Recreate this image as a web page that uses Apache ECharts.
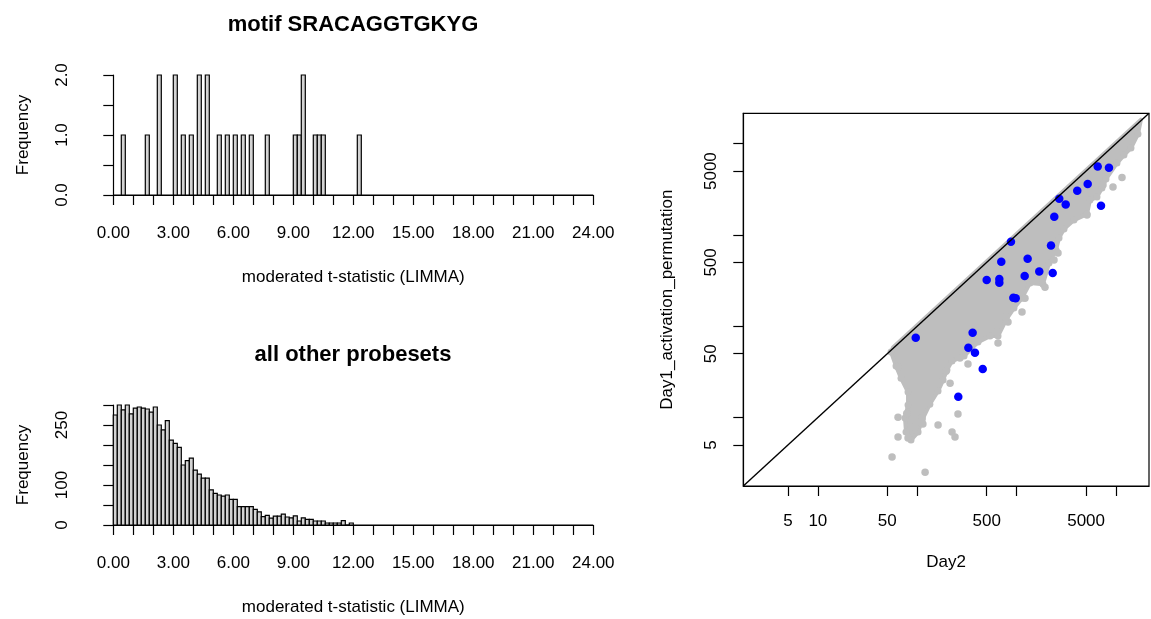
<!DOCTYPE html>
<html>
<head>
    <meta charset="utf-8">
    <title>motif SRACAGGTGKYG</title>
    <script src="https://cdn.jsdelivr.net/npm/echarts@6/dist/echarts.min.js"></script>
    <style>
        body { margin: 0; background: #fff; }
    </style>
</head>
<body>
    <div id="main" style="width: 1151px;height:619px;"></div>
<script type="text/javascript">
// histogram bins are 0.2 wide
var binWidth = 0.2;

// motif probesets: left edge of each non-empty bin and its count
var motifBinStarts = [0.4, 1.6, 2.2, 3.0, 3.4, 3.8, 4.2, 4.6, 5.2, 5.6, 6.0, 6.4, 6.8, 7.6, 9.0, 9.2, 9.4, 10.0, 10.2, 10.4, 12.2];
var motifCounts    = [1,   1,   2,   2,   1,   1,   2,   2,   1,   1,   1,   1,   1,   1,   1,   1,   2,   1,    1,    1,    1];

// all other probesets: counts of bins starting at 0, 0.2, 0.4 ...
var otherCounts = [
    275, 300, 288, 300, 278, 292, 295, 292, 290, 282,
    295, 250, 238, 261, 212, 204, 194, 150, 161, 167,
    137, 127, 117, 117, 88, 79, 75, 72, 75, 64,
    64, 46, 46, 46, 46, 39, 33, 21, 24, 17,
    22, 22, 27, 20, 18, 23, 10, 18, 14, 14,
    10, 10, 10, 5, 5, 5, 5, 11, 0, 5
];

// scatter: dense grey cloud outline [Day2, Day1]
var cloudOutline = [
    [17820, 18320], [57.0, 58.6], [54.5, 52.1], [61.2, 36.6], [68.7, 27.0],
    [80.8, 19.0], [80.8, 13.7], [75.3, 9.85], [77.1, 6.92], [86.6, 5.66],
    [102, 6.92], [112, 9.37], [134, 14.0], [162, 19.5], [182, 25.7],
    [199, 33.1], [224, 41.5], [296, 47.1], [409, 67.0], [540, 77.9],
    [650, 77.9], [782, 117], [941, 158], [1133, 203], [1363, 297],
    [1843, 289], [2118, 491], [2490, 682], [2670, 923], [2998, 1158],
    [3779, 1453], [5107, 1690], [5472, 2406], [6437, 2596], [7228, 3257],
    [7930, 4088], [10230, 6117], [12030, 7485], [14150, 8930], [16640, 12720]
];

// scatter: grey probesets lying outside the dense cloud
var greyPoints = [
    [64.1, 10.1], [64.1, 6.10], [55.8, 3.69], [120, 2.52], [162, 8.26],
    [224, 6.92], [240, 6.10], [257, 10.9], [214, 23.8], [324, 38.5],
    [269, 44.8], [112, 9.85], [114, 8.47], [95.0, 7.85], [80.8, 5.95],
    [1133, 143], [819, 111], [650, 65.3], [1214, 203], [1461, 320],
    [1930, 268], [2377, 530], [2609, 632], [5107, 1649], [7396, 3513],
    [9324, 3340], [11490, 4245], [635, 86.2], [782, 126], [195, 32.2],
    [64.1, 35.7], [78.4, 11.1], [107, 8.91]
];

// scatter: motif probesets (blue)
var motifPoints = [
    [96.6, 74.6], [327, 58.1], [361, 84.7], [381, 51.2], [456, 33.9],
    [259, 16.9], [500, 320], [670, 328], [670, 299], [701, 508],
    [877, 841], [927, 205], [979, 202], [1205, 354], [1291, 547],
    [1690, 398], [2218, 767], [2307, 382], [2393, 1581], [2685, 2489],
    [3119, 2158], [4074, 3041], [5188, 3606], [6546, 5623], [8492, 5433],
    [7063, 2084]
];

// log axis ticks / labels
var logTicks = [5, 10, 50, 100, 500, 1000, 5000, 10000];
var xLogLabels = [5, 10, 50, 500, 5000];
var yLogLabels = [5, 50, 500, 5000];
var logMin = 0.25, logMax = 4.332;

var font = '"Liberation Sans", Arial, sans-serif';
var ink = '#000';

function toLog(p) { return [Math.log10(p[0]), Math.log10(p[1])]; }

var myChart = echarts.init(document.getElementById('main'));

function histBars(grid, data) {
    return {
        type: 'custom',
        xAxisIndex: grid, yAxisIndex: grid,
        data: data,
        z: 3,
        renderItem: function (params, api) {
            var p0 = api.coord([api.value(0), api.value(1)]);
            var p1 = api.coord([api.value(0) + binWidth, 0]);
            return {
                type: 'rect',
                shape: { x: p0[0], y: p0[1], width: p1[0] - p0[0], height: p1[1] - p0[1] },
                style: { fill: '#d3d3d3', stroke: ink, lineWidth: 1.2 }
            };
        }
    };
}

function baseline(grid) {
    return {
        type: 'line', xAxisIndex: grid, yAxisIndex: grid,
        data: [[0, 0], [24, 0]], symbol: 'none', z: 2,
        lineStyle: { color: ink, width: 1.2 }
    };
}

function histX(grid) {
    return {
        type: 'value', gridIndex: grid, min: 0, max: 24, interval: 1, offset: 5,
        name: 'moderated t-statistic (LIMMA)', nameLocation: 'middle', nameGap: 69,
        nameTextStyle: { color: ink, fontSize: 17, fontFamily: font },
        axisLine: { lineStyle: { color: ink, width: 1.2 } },
        axisTick: { length: 10, lineStyle: { color: ink, width: 1.2 } },
        axisLabel: {
            color: ink, fontSize: 17, fontFamily: font, margin: 25,
            formatter: function (v) { return v % 3 === 0 ? v.toFixed(2) : ''; }
        },
        splitLine: { show: false }
    };
}

function histY(grid, max, step, shown, digits) {
    return {
        type: 'value', gridIndex: grid, min: 0, max: max, interval: step, offset: 17.6,
        name: 'Frequency', nameLocation: 'middle', nameGap: 64, nameRotate: 90,
        nameTextStyle: { color: ink, fontSize: 17, fontFamily: font },
        axisLine: { show: true, lineStyle: { color: ink, width: 1.2 } },
        axisTick: { show: true, length: 10, lineStyle: { color: ink, width: 1.2 } },
        axisLabel: {
            color: ink, fontSize: 17, fontFamily: font, margin: 25, rotate: 90,
            formatter: function (v) { return shown.indexOf(v) >= 0 ? v.toFixed(digits) : ''; }
        },
        splitLine: { show: false }
    };
}

function logAxis(labels, name, gap, margin, extra) {
    var ax = {
        type: 'value', gridIndex: 2, min: logMin, max: logMax,
        name: name, nameLocation: 'middle', nameGap: gap,
        nameTextStyle: { color: ink, fontSize: 17, fontFamily: font },
        axisLine: { show: true, lineStyle: { color: ink, width: 1.2 } },
        axisTick: { show: true, length: 10, lineStyle: { color: ink, width: 1.2 },
                    customValues: logTicks.map(Math.log10) },
        axisLabel: {
            color: ink, fontSize: 17, fontFamily: font, margin: margin,
            customValues: labels.map(Math.log10),
            formatter: function (v) { return String(Math.round(Math.pow(10, v))); }
        },
        splitLine: { show: false }
    };
    return Object.assign(ax, extra || {});
}

var motifData = motifBinStarts.map(function (s, i) { return [s, motifCounts[i]]; });
var otherData = otherCounts.map(function (c, i) { return [i * binWidth, c]; });

var yLog = logAxis(yLogLabels, 'Day1_activation_permutation', 67.6, 23, { nameRotate: 90 });
yLog.axisLabel.rotate = 90;

option = {
    animation: false,
    backgroundColor: '#fff',
    grid: [
        { left: 113.3, top: 75, width: 480, height: 120 },
        { left: 113.3, top: 405, width: 480, height: 120 },
        { left: 743.3, top: 113.3, width: 405.7, height: 372.7,
          show: true, borderColor: ink, borderWidth: 1.2, backgroundColor: 'transparent' }
    ],
    graphic: [
        { type: 'text', x: 353, y: 25,
          style: { text: 'motif SRACAGGTGKYG', fontSize: 22, fontWeight: 'bold', fontFamily: font,
                   fill: ink, align: 'center', verticalAlign: 'middle' } },
        { type: 'text', x: 353, y: 355,
          style: { text: 'all other probesets', fontSize: 22, fontWeight: 'bold', fontFamily: font,
                   fill: ink, align: 'center', verticalAlign: 'middle' } }
    ],
    xAxis: [
        histX(0),
        histX(1),
        logAxis(xLogLabels, 'Day2', 68, 27)
    ],
    yAxis: [
        histY(0, 2, 0.5, [0, 1, 2], 1),
        histY(1, 300, 50, [0, 100, 250], 0),
        yLog
    ],
    series: [
        baseline(0),
        histBars(0, motifData),
        baseline(1),
        histBars(1, otherData),
        {
            type: 'custom', xAxisIndex: 2, yAxisIndex: 2, data: [[1, 1]], z: 2,
            renderItem: function (params, api) {
                var pts = cloudOutline.map(function (p) { return api.coord(toLog(p)); });
                return {
                    type: 'polygon',
                    shape: { points: pts },
                    style: { fill: '#bebebe', stroke: '#bebebe', lineWidth: 4, lineJoin: 'round' }
                };
            }
        },
        {
            // rounded bumps along the cloud edge
            type: 'scatter', xAxisIndex: 2, yAxisIndex: 2, z: 3,
            data: cloudOutline.slice(2).map(toLog), symbolSize: 7,
            itemStyle: { color: '#bebebe', opacity: 1 }
        },
        {
            type: 'scatter', xAxisIndex: 2, yAxisIndex: 2, z: 3,
            data: greyPoints.map(toLog), symbolSize: 7.5,
            itemStyle: { color: '#bebebe', opacity: 1 }
        },
        {
            type: 'scatter', xAxisIndex: 2, yAxisIndex: 2, z: 4,
            data: motifPoints.map(toLog), symbolSize: 8.5,
            itemStyle: { color: '#0000ff', opacity: 1 }
        },
        {
            // y = x reference line
            type: 'line', xAxisIndex: 2, yAxisIndex: 2, z: 5, symbol: 'none',
            data: [[logMin, logMin], [logMax, logMax]],
            lineStyle: { color: ink, width: 1.4 }
        }
    ]
};

myChart.setOption(option);
</script>
</body>
</html>
